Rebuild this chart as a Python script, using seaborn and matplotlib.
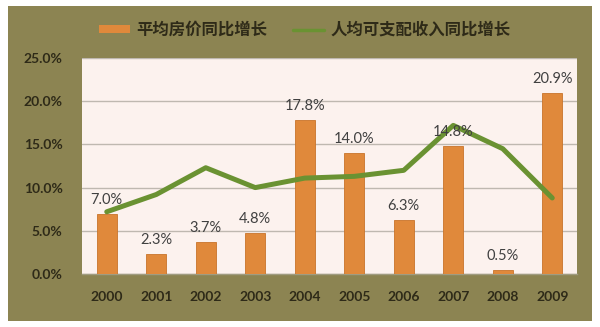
import matplotlib
matplotlib.use("Agg")
import matplotlib.pyplot as plt
import matplotlib.patches as mpatches
from matplotlib.lines import Line2D
from matplotlib.ticker import FuncFormatter, MultipleLocator
import seaborn as sns
import pandas as pd
import numpy as np

years = ["2000", "2001", "2002", "2003", "2004", "2005", "2006", "2007", "2008", "2009"]
house_price_growth = [7.0, 2.3, 3.7, 4.8, 17.8, 14.0, 6.3, 14.8, 0.5, 20.9]
income_growth = [7.2, 9.2, 12.3, 10.0, 11.1, 11.3, 12.0, 17.2, 14.5, 8.8]
series_names = ["平均房价同比增长", "人均可支配收入同比增长"]

sns.set_theme(style="white")
plt.rcParams['font.family'] = ['Lato', 'Noto Sans CJK SC', 'DejaVu Sans']

BAR = "#E0893B"
LINE = "#6A9232"
OLIVE = "#8C8452"
PLOT_BG = "#FCF2EE"
TXT = "#2E2A18"

fig = plt.figure(figsize=(6.0, 3.27), dpi=100)
fig.patch.set_facecolor("white")
fig.patches.append(mpatches.Rectangle((8/600, 6/327), 584/600, 315/327,
                                      transform=fig.transFigure, facecolor=OLIVE,
                                      edgecolor="none", zorder=-10))

ax = fig.add_axes([82/600, (327-274)/327, 495/600, 216/327])
ax.set_facecolor(PLOT_BG)

df = pd.DataFrame({"year": years, "price": house_price_growth, "income": income_growth})
sns.barplot(data=df, x="year", y="price", color=BAR, width=0.4, ax=ax,
            edgecolor="#C8742A", linewidth=0.6, saturation=1, zorder=3)
df["pos"] = np.arange(len(years))
sns.lineplot(data=df, x="pos", y="income", color=LINE, linewidth=3.6, ax=ax,
             zorder=4, solid_capstyle="round", solid_joinstyle="round")

for i, v in enumerate(house_price_growth):
    ax.annotate(f"{v:.1f}%", (i, v), xytext=(0, 5), textcoords="offset points",
                ha="center", va="bottom", fontsize=10.5, color="#404040", zorder=5)

ax.set_xlim(-0.5, len(years) - 0.5)
ax.set_ylim(0, 25)
ax.yaxis.set_major_locator(MultipleLocator(5))
ax.yaxis.set_major_formatter(FuncFormatter(lambda v, p: f"{v:.1f}%"))
ax.grid(axis="y", color="#BFB8B0", linewidth=1.0, zorder=0)
ax.set_axisbelow(True)
for s in ["top", "right", "left"]:
    ax.spines[s].set_visible(False)
ax.spines["bottom"].set_color("#A09C80")
ax.spines["bottom"].set_linewidth(1.0)
ax.set_xlabel("")
ax.set_ylabel("")
ax.tick_params(axis="y", length=0, pad=14, labelsize=10, labelcolor=TXT)
ax.tick_params(axis="x", length=0, pad=12, labelsize=10, labelcolor=TXT)
for lab in ax.get_xticklabels() + ax.get_yticklabels():
    lab.set_fontweight("bold")

handles = [mpatches.Patch(facecolor=BAR, edgecolor="none"),
           Line2D([0], [0], color=LINE, linewidth=2.5)]
leg = fig.legend(handles, series_names, loc="center", bbox_to_anchor=(0.508, 1 - 30/327),
                 ncol=2, frameon=False, handlelength=1.9, handleheight=0.4,
                 handletextpad=0.35, columnspacing=1.6,
                 prop={"family": ["Noto Sans CJK SC", "DejaVu Sans"], "size": 11.8, "weight": "bold"})
for t in leg.get_texts():
    t.set_color(TXT)

fig.savefig("out.png", dpi=100, facecolor=fig.get_facecolor())
